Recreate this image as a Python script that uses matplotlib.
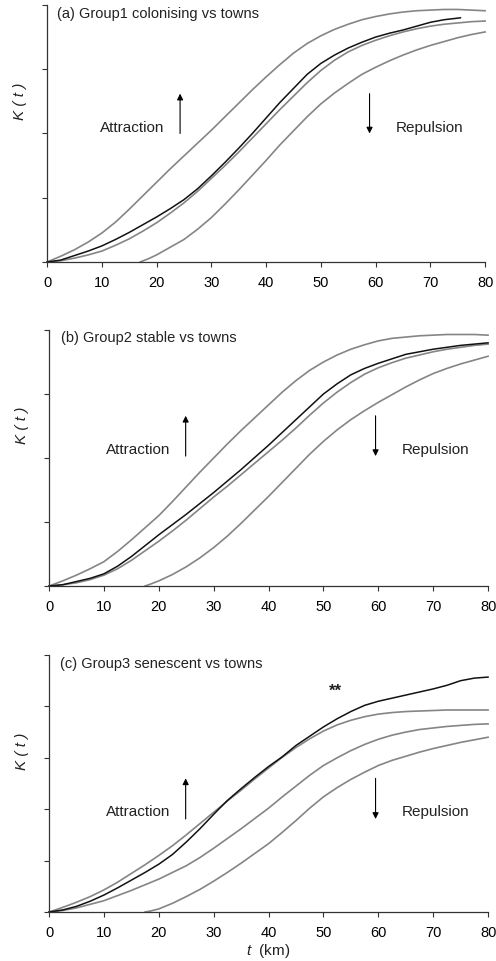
import matplotlib
matplotlib.use("Agg")
import matplotlib.pyplot as plt

plt.rcParams['font.family'] = ['Liberation Sans', 'DejaVu Sans']
plt.rcParams['mathtext.fontset'] = 'custom'
plt.rcParams['mathtext.it'] = 'Liberation Sans:italic'
plt.rcParams['mathtext.rm'] = 'Liberation Sans'

# ---------------- data ----------------
x_env = [0, 2.5, 5, 7.5, 10, 12.5, 15, 17.5, 20, 22.5, 25, 27.5, 30, 32.5, 35, 37.5, 40,
         42.5, 45, 47.5, 50, 52.5, 55, 57.5, 60, 62.5, 65, 67.5, 70, 72.5, 75, 77.5, 80]
x_low_a = [17, 18.5, 20, 22.5, 25, 27.5, 30, 32.5, 35, 37.5, 40, 42.5, 45, 47.5, 50,
           52.5, 55, 57.5, 60, 62.5, 65, 67.5, 70, 72.5, 75, 77.5, 80]
x_low_bc = [17.5, 18.5, 20, 22.5, 25, 27.5, 30, 32.5, 35, 37.5, 40, 42.5, 45, 47.5, 50,
            52.5, 55, 57.5, 60, 62.5, 65, 67.5, 70, 72.5, 75, 77.5, 80]
x_obs_a = [0, 2.5, 5, 7.5, 10, 12.5, 15, 17.5, 20, 22.5, 25, 27.5, 30, 32.5, 35, 37.5, 40,
           42.5, 45, 47.5, 50, 52.5, 55, 57.5, 60, 62.5, 65, 67.5, 70, 72.5, 75.5]

a_upper = [0, 0.09, 0.19, 0.31, 0.45, 0.62, 0.82, 1.03, 1.24, 1.45, 1.65, 1.85, 2.05, 2.26, 2.47, 2.68, 2.88,
           3.07, 3.25, 3.40, 3.52, 3.62, 3.70, 3.77, 3.82, 3.86, 3.89, 3.91, 3.92, 3.93, 3.93, 3.92, 3.91]
a_mid = [0, 0.02, 0.06, 0.11, 0.17, 0.26, 0.36, 0.48, 0.61, 0.76, 0.92, 1.10, 1.30, 1.50, 1.71, 1.93, 2.15,
         2.37, 2.58, 2.79, 2.98, 3.14, 3.27, 3.37, 3.45, 3.52, 3.58, 3.63, 3.67, 3.70, 3.72, 3.74, 3.75]
a_low = [0, 0.05, 0.11, 0.23, 0.35, 0.51, 0.69, 0.90, 1.12, 1.35, 1.58, 1.82, 2.04, 2.26, 2.46,
         2.63, 2.78, 2.92, 3.03, 3.13, 3.22, 3.30, 3.37, 3.43, 3.49, 3.54, 3.58]
a_obs = [0, 0.03, 0.10, 0.17, 0.25, 0.35, 0.46, 0.58, 0.70, 0.83, 0.97, 1.14, 1.34, 1.55, 1.77, 2.00, 2.24,
         2.48, 2.70, 2.92, 3.09, 3.22, 3.33, 3.42, 3.50, 3.56, 3.61, 3.67, 3.73, 3.77, 3.80]

b_upper = [0, 0.08, 0.17, 0.27, 0.38, 0.54, 0.72, 0.91, 1.10, 1.32, 1.55, 1.78, 2.00, 2.22, 2.43, 2.63, 2.83,
           3.03, 3.21, 3.37, 3.50, 3.61, 3.70, 3.77, 3.83, 3.87, 3.89, 3.91, 3.92, 3.93, 3.93, 3.93, 3.92]
b_mid = [0, 0.02, 0.05, 0.10, 0.17, 0.27, 0.40, 0.55, 0.70, 0.86, 1.03, 1.21, 1.39, 1.56, 1.74, 1.92, 2.10,
         2.28, 2.47, 2.67, 2.86, 3.03, 3.18, 3.31, 3.41, 3.49, 3.56, 3.61, 3.66, 3.70, 3.73, 3.76, 3.78]
b_low = [0, 0.03, 0.08, 0.18, 0.30, 0.44, 0.60, 0.78, 0.98, 1.19, 1.40, 1.62, 1.84, 2.06, 2.26,
         2.44, 2.60, 2.74, 2.87, 2.99, 3.11, 3.22, 3.32, 3.40, 3.47, 3.53, 3.59]
b_obs = [0, 0.02, 0.07, 0.12, 0.19, 0.31, 0.46, 0.63, 0.80, 0.96, 1.12, 1.29, 1.46, 1.64, 1.82, 2.01, 2.20,
         2.40, 2.60, 2.80, 3.00, 3.16, 3.30, 3.40, 3.48, 3.55, 3.62, 3.66, 3.70, 3.73, 3.76, 3.78, 3.80]

c_upper = [0, 0.09, 0.19, 0.30, 0.43, 0.58, 0.75, 0.92, 1.10, 1.29, 1.50, 1.72, 1.94, 2.16, 2.37, 2.59, 2.80,
           3.01, 3.20, 3.37, 3.52, 3.64, 3.73, 3.80, 3.85, 3.88, 3.90, 3.91, 3.92, 3.93, 3.93, 3.93, 3.93]
c_mid = [0, 0.03, 0.08, 0.15, 0.22, 0.32, 0.42, 0.53, 0.64, 0.77, 0.90, 1.06, 1.24, 1.43, 1.62, 1.82, 2.02,
         2.24, 2.45, 2.66, 2.85, 3.00, 3.14, 3.26, 3.36, 3.44, 3.50, 3.55, 3.58, 3.61, 3.63, 3.65, 3.66]
c_low = [0, 0.02, 0.06, 0.17, 0.30, 0.44, 0.60, 0.77, 0.95, 1.14, 1.33, 1.55, 1.78, 2.02, 2.24,
         2.42, 2.58, 2.72, 2.85, 2.95, 3.03, 3.11, 3.18, 3.24, 3.30, 3.35, 3.40]
c_obs = [0, 0.04, 0.11, 0.21, 0.33, 0.47, 0.62, 0.77, 0.93, 1.12, 1.36, 1.62, 1.90, 2.17, 2.40, 2.62, 2.83,
         3.02, 3.24, 3.42, 3.60, 3.76, 3.90, 4.02, 4.10, 4.16, 4.22, 4.28, 4.34, 4.41, 4.50, 4.55, 4.57]

titles = ["(a) Group1 colonising vs towns", "(b) Group2 stable vs towns", "(c) Group3 senescent vs towns"]
x_ticks = [0, 10, 20, 30, 40, 50, 60, 70, 80]

panels = [
    dict(rect=[0.0948, 0.7266, 0.8832, 0.2672], ymax=4, upper=a_upper, mid=a_mid, xlow=x_low_a, low=a_low,
         ox=x_obs_a, obs=a_obs, title=titles[0], tpos=(1.9, 3.88),
         att_x=24.3, att_y=(2.0, 2.62), att_t=(21.5, 2.1), rep_x=58.9, rep_t=(63.7, 2.1)),
    dict(rect=[0.0988, 0.3898, 0.8852, 0.2661], ymax=4, upper=b_upper, mid=b_mid, xlow=x_low_bc, low=b_low,
         ox=x_env, obs=b_obs, title=titles[1], tpos=(2.25, 3.89),
         att_x=24.9, att_y=(2.03, 2.66), att_t=(22.2, 2.14), rep_x=59.5, rep_t=(64.3, 2.14)),
    dict(rect=[0.0988, 0.0509, 0.8852, 0.2672], ymax=5, upper=c_upper, mid=c_mid, xlow=x_low_bc, low=c_low,
         ox=x_env, obs=c_obs, title=titles[2], tpos=(1.95, 4.84),
         att_x=24.9, att_y=(1.81, 2.60), att_t=(22.2, 1.96), rep_x=59.5, rep_t=(64.3, 1.96)),
]

fig = plt.figure(figsize=(4.96, 9.62), dpi=100)
gray = '#858585'
spine_c = '#333333'

for i, p in enumerate(panels):
    ax = fig.add_axes(p['rect'])
    ax.plot(x_env, p['upper'], color=gray, lw=1.2, clip_on=False)
    ax.plot(x_env, p['mid'], color=gray, lw=1.2, clip_on=False)
    ax.plot(p['xlow'], p['low'], color=gray, lw=1.2, clip_on=False)
    ax.plot(p['ox'], p['obs'], color='#111111', lw=1.1, clip_on=False)
    ax.set_xlim(0, 80)
    ax.set_ylim(0, p['ymax'])
    ax.set_xticks(x_ticks)
    ax.set_xticklabels([str(t) for t in x_ticks], fontsize=10.5)
    ax.set_yticks(range(p['ymax'] + 1))
    ax.set_yticklabels([])
    for s in ['top', 'right']:
        ax.spines[s].set_visible(False)
    for s in ['left', 'bottom']:
        ax.spines[s].set_color(spine_c)
        ax.spines[s].set_linewidth(0.9)
    ax.tick_params(axis='both', direction='out', length=3.5, width=0.8, color=spine_c)
    ax.tick_params(axis='x', pad=6)
    ax.set_ylabel('K ( t )', fontsize=11, fontstyle='italic', color='#222222')
    ax.yaxis.set_label_coords(-0.045, 0.63)
    ax.text(p['tpos'][0], p['tpos'][1], p['title'], fontsize=10.5, va='center', ha='left', color='#222222')
    ax.annotate('', xy=(p['att_x'], p['att_y'][1]), xytext=(p['att_x'], p['att_y'][0]),
                arrowprops=dict(arrowstyle='-|>', lw=0.8, color='black', mutation_scale=9, shrinkA=0, shrinkB=0))
    ax.annotate('', xy=(p['rep_x'], p['att_y'][0]), xytext=(p['rep_x'], p['att_y'][1]),
                arrowprops=dict(arrowstyle='-|>', lw=0.8, color='black', mutation_scale=9, shrinkA=0, shrinkB=0))
    ax.text(p['att_t'][0], p['att_t'][1], 'Attraction', fontsize=11, ha='right', va='center', color='#222222')
    ax.text(p['rep_t'][0], p['rep_t'][1], 'Repulsion', fontsize=11, ha='left', va='center', color='#222222')
    if i == 2:
        ax.text(52.1, 4.31, '**', fontsize=12, ha='center', va='center', fontweight='bold', color='#222222')
        ax.set_xlabel(r'$t$  (km)', fontsize=11, labelpad=1.5, color='#222222')

fig.savefig('out.png', dpi=100)
